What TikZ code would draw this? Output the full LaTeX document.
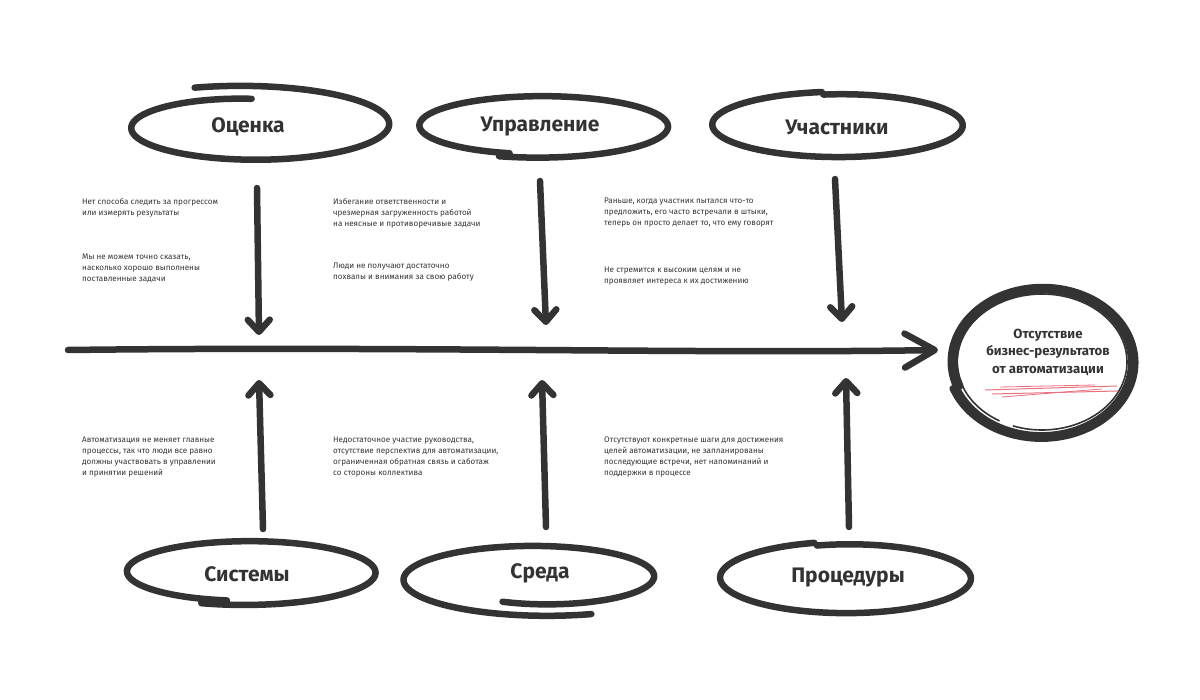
\documentclass[tikz,border=0pt]{standalone}
\usepackage{fontspec}
\setmainfont{Fira Sans}
\usetikzlibrary{arrows.meta}

\definecolor{ink}{HTML}{333333}
\definecolor{rose}{HTML}{E8717F}

\tikzset{
  brush/.style={draw=ink, line width=6.5pt, line cap=round, line join=round},
  note/.style={anchor=north west, inner sep=0pt, align=left, text=ink,
    font=\fontsize{8.1}{10.9}\selectfont},
  head/.style={text=ink, inner sep=0pt, font=\fontsize{21}{24}\selectfont\bfseries},
  tip/.style={-{Straight Barb[round,length=12pt,width=22pt]}},
}

% hand-drawn loop: cx, cy, rx, ry, from, to, growth
\newcommand{\scribble}[7]{%
  \draw[brush] plot[domain=#5:#6, samples=100, smooth, variable=\t]
    ({#1+#3*(1+#7*((\t-(#5))/((#6)-(#5))-0.5))*cos(\t)},
     {#2+#4*(1+#7*((\t-(#5))/((#6)-(#5))-0.5))*sin(\t)});}

\begin{document}
\begin{tikzpicture}[x=1pt,y=-1pt]
  \useasboundingbox (0,0) rectangle (1200,700);

  % ================= loops and headings =================
  \scribble{248}{126}{130}{34}{250}{632}{-0.4}
  \scribble{540}{126}{125}{30}{105}{468}{0.12}
  \scribble{840}{125}{125}{32}{262}{622}{0.08}
  \scribble{247}{572}{125}{31}{100}{470}{0.14}
  \scribble{540}{578}{125}{32}{-290}{112}{-0.4}
  \scribble{848}{578}{125}{35}{255}{615}{0.08}

  \node[head] (h1) at (248,127) {Оценка};
  \node[head] (h2) at (540,127) {Управление};
  \node[head] (h3) at (837,127) {Участники};
  \node[head] (h4) at (247,574) {Системы};
  \node[head] (h5) at (540,573) {Среда};
  \node[head] (h6) at (848,578) {Процедуры};

  % ================= result =================
  \scribble{1042}{362}{91}{74}{160}{880}{0.09}
  \draw[ink, line width=1.6pt] plot[domain=120:470, samples=80, smooth, variable=\t]
    ({1042+85*cos(\t)}, {362+68*sin(\t)});
  \node[text=ink, align=center, inner sep=0pt,
    font=\fontsize{13.2}{17.5}\selectfont\bfseries] (res) at (1048,352)
    {Отсутствие\\бизнес-результатов\\от автоматизации};
  \draw[rose, line width=1pt] (985,390) -- (1117,386);
  \draw[rose, line width=1pt] (992,394) -- (1118,391);
  \draw[rose, line width=0.8pt] (1002,397) -- (1102,389);
  \draw[rose, line width=0.8pt] (1000,387) -- (1095,385);

  % ================= spine =================
  \coordinate (spL) at (68,350);
  \coordinate (spR) at (938,350);
  \draw[brush, -{Straight Barb[round,length=30pt,width=34pt]}]
    (spL) .. controls (400,346) and (700,354) .. (spR);

  % ================= branches =================
  \coordinate (t1a) at (257,188);  \coordinate (t1b) at (259,335);
  \coordinate (t2a) at (540,181);  \coordinate (t2b) at (546,325);
  \coordinate (t3a) at (835,179);  \coordinate (t3b) at (842,322);
  \coordinate (b1a) at (263,529);  \coordinate (b1b) at (259,380);
  \coordinate (b2a) at (546,527);  \coordinate (b2b) at (542,380);
  \coordinate (b3a) at (849,527);  \coordinate (b3b) at (846,378);
  \foreach \s in {t1,t2,t3,b1,b2,b3}
    \draw[brush, tip] (\s a) -- (\s b);

  % ================= notes =================
  \node[note] (n1) at (82,198) {Нет способа следить за прогрессом\\или измерять результаты};
  \node[note] (n2) at (82,254) {Мы не можем точно сказать,\\насколько хорошо выполнены\\поставленные задачи};
  \node[note] (n3) at (333,198) {Избегание ответственности и\\чрезмерная загруженность работой\\на неясные и противоречивые задачи};
  \node[note] (n4) at (333,263) {Люди не получают достаточно\\похвалы и внимания за свою работу};
  \node[note] (n5) at (604,198) {Раньше, когда участник пытался что-то\\предложить, его часто встречали в штыки,\\теперь он просто делает то, что ему говорят};
  \node[note] (n6) at (604,267) {Не стремится к высоким целям и не\\проявляет интереса к их достижению};
  \node[note] (n7) at (82,437) {Автоматизация не меняет главные\\процессы, так что люди все равно\\должны участвовать в управлении\\и принятии решений};
  \node[note] (n8) at (333,437) {Недостаточное участие руководства,\\отсутствие перспектив для автоматизации,\\ограниченная обратная связь и саботаж\\со стороны коллектива};
  \node[note] (n9) at (604,437) {Отсутствуют конкретные шаги для достижения\\целей автоматизации, не запланированы\\последующие встречи, нет напоминаний и\\поддержки в процессе};
\end{tikzpicture}
\end{document}
